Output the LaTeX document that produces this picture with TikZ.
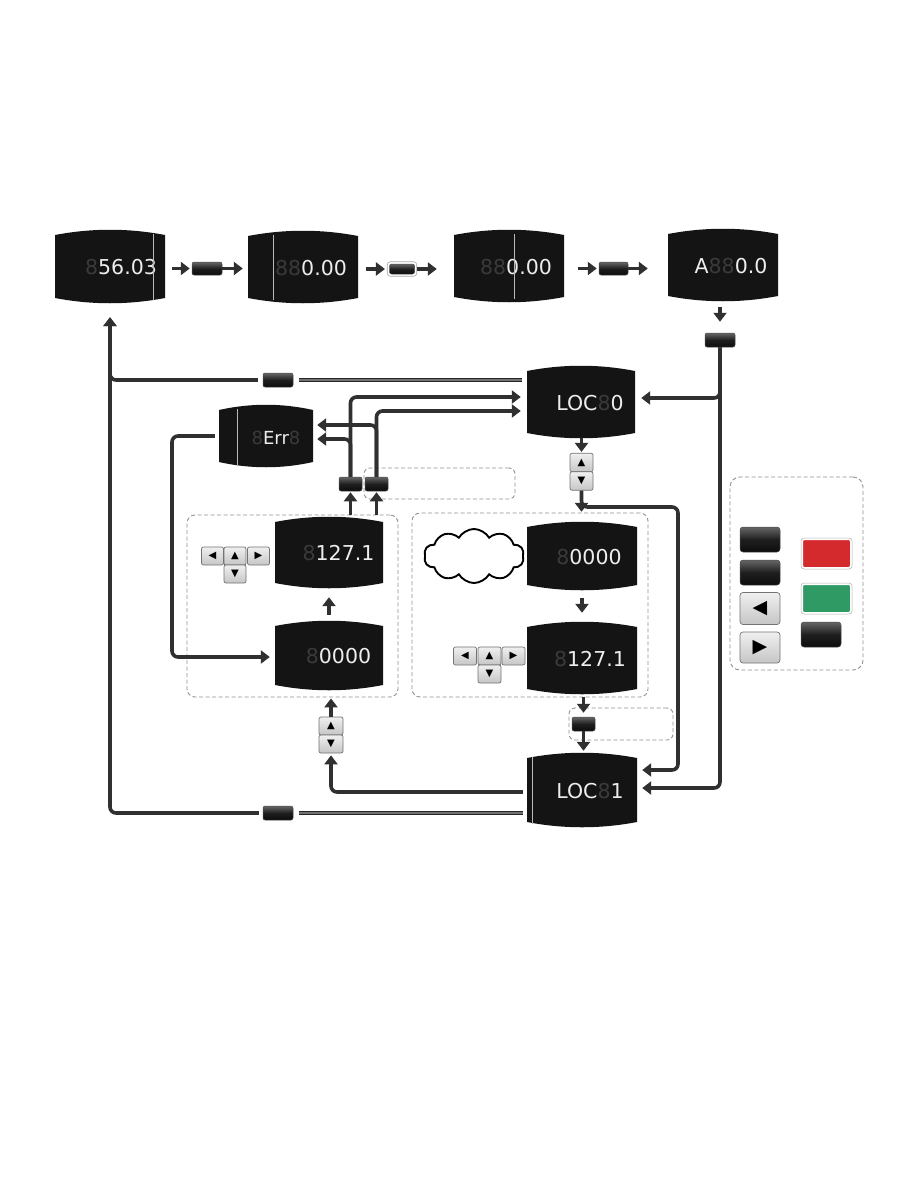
\documentclass[tikz,border=0pt]{standalone}
\usepackage{fontspec}
\usetikzlibrary{arrows.meta,calc,shapes.symbols,fit}
\newfontfamily\segfont{DejaVu Sans}
\newfontfamily\symfont{DejaVu Sans}
\definecolor{conncol}{HTML}{303030}
\definecolor{segdim}{HTML}{3A3A3A}
\definecolor{seglit}{HTML}{EDEDED}
\definecolor{dispc}{HTML}{141414}
\definecolor{redb}{HTML}{D42A2E}
\definecolor{greenb}{HTML}{2F9A63}
\newcommand\segD[1]{\textcolor{segdim}{#1}}
\newcommand\segL[1]{\textcolor{seglit}{#1}}
\tikzset{
 conn/.style={draw=conncol, line width=3.6pt, rounded corners=6pt},
 arr/.style={-{Triangle[length=9pt,width=13pt]}},
 dbl/.style={draw=black!85, double=black!55, double distance=1.4pt, line width=1.6pt},
 dbox/.style={draw=gray!85, dash pattern=on 4pt off 2.5pt, line width=0.9pt, rounded corners=8pt, inner sep=0pt},
 btn/.style={rectangle, rounded corners=2pt, top color=black!60, bottom color=black!95, middle color=black!88, draw=black!70, line width=0.5pt, inner sep=0pt},
 key/.style={rectangle, rounded corners=2pt, top color=gray!12, bottom color=gray!45, draw=black!55, line width=0.7pt, inner sep=0pt, font=\symfont\fontsize{10}{10}\selectfont},
 dnode/.style={rectangle, inner sep=0pt},
 dtext/.style={inner sep=0pt, anchor=base, font=\segfont\fontsize{20.5}{20.5}\selectfont},
 vline/.style={draw=gray!55, line width=0.5pt},
}
\newcommand\Disp[7]{%
 \fill[dispc] ({#2-#4/2},{#3-#5/2+5}) .. controls ({#2-#4/6},{#3-#5/2-2}) and ({#2+#4/6},{#3-#5/2-2}) .. ({#2+#4/2},{#3-#5/2+5}) -- ({#2+#4/2},{#3+#5/2-5}) .. controls ({#2+#4/6},{#3+#5/2+2}) and ({#2-#4/6},{#3+#5/2+2}) .. ({#2-#4/2},{#3+#5/2-5}) -- cycle;
 \node[dnode, minimum width=#4pt, minimum height=#5pt] (#1) at (#2,#3) {};
 \node[dtext] (#1t) at ({#2+#7},{#3+8}) {#6};
}
\begin{document}
\begin{tikzpicture}[x=1pt,y=-1pt]
\fill[white] (0,0) rectangle (918,1188);
\useasboundingbox (0,0) rectangle (918,1188);

% dashed boxes
\node[dbox, minimum width=211pt, minimum height=182pt] (Lbox) at (292.5,606) {};
\node[dbox, minimum width=236pt, minimum height=184pt] (Rbox) at (530,605) {};
\node[dbox, minimum width=151pt, minimum height=31pt, rounded corners=6pt] (Tbox) at (439.5,483.5) {};
\node[dbox, minimum width=104pt, minimum height=32pt, rounded corners=6pt] (Fbox) at (621,724) {};
\node[dbox, minimum width=133pt, minimum height=193pt, rounded corners=10pt] (Legend) at (796.5,573.5) {};

% cloud
\node[cloud, draw=black, fill=white, line width=1.9pt, cloud puffs=10, cloud puff arc=120, aspect=1.9, minimum width=100pt, minimum height=54pt] (cloud) at (474,556) {};

% displays
\Disp{D1}{110}{266.5}{110}{73}{\segD{8}\segL{56.03}}{11}
\Disp{D2}{303}{267}{110}{72}{\segD{88}\segL{0.00}}{8}
\Disp{D3}{509}{266}{110}{72}{\segD{88}\segL{0.00}}{7}
\Disp{D4}{723}{265}{110}{72}{\segL{A}\segD{88}\segL{0.0}}{8}
\Disp{LOC0}{581}{402}{108}{72}{\segL{LOC}\segD{8}\segL{0}}{9}
\Disp{Err}{266}{436}{94}{62}{\fontsize{18}{18}\selectfont\segD{8}\segL{Err}\segD{8}}{10}
\Disp{Ltop}{329}{552.5}{108}{71}{\segD{8}\segL{127.1}}{9.5}
\Disp{Lbot}{329}{655.5}{108}{69}{\segD{8}\segL{0000}}{9.5}
\Disp{Rtop}{582}{556}{110}{68}{\segD{8}\segL{0000}}{7}
\Disp{Rbot}{582}{658}{110}{72}{\segD{8}\segL{127.1}}{8}
\Disp{LOC1}{582}{790}{110}{74}{\segL{LOC}\segD{8}\segL{1}}{8}
\draw[vline] (153,234) -- (153,300);
\draw[vline] (273,235) -- (273,300);
\draw[vline] (514,234) -- (514,299);
\draw[vline] (237,409) -- (237,465);
\draw[vline] (532,757) -- (532,824);

% buttons
\node[btn, minimum width=30pt, minimum height=13pt] (bA) at (207,268.5) {};
\node[btn, minimum width=25pt, minimum height=10pt] (bB) at (402,269) {};
\node[draw=gray!70, rounded corners=3pt, fit=(bB), inner sep=2pt, line width=0.6pt] (bBo) {};
\node[btn, minimum width=29pt, minimum height=13pt] (bC) at (613.5,268.5) {};
\node[btn, minimum width=30pt, minimum height=14pt] (bD) at (720,340) {};
\node[btn, minimum width=30pt, minimum height=14pt] (bE) at (278,380) {};
\node[btn, minimum width=23pt, minimum height=14pt] (b1) at (350.5,484) {};
\node[btn, minimum width=23pt, minimum height=14pt] (b2) at (376.5,484) {};
\node[btn, minimum width=23pt, minimum height=14pt] (bF) at (583.5,724) {};
\node[btn, minimum width=30pt, minimum height=14pt] (bG) at (278,813) {};

% keys
\node[key, minimum width=23pt, minimum height=18.5pt] (UD1u) at (581.5,462.5) {▲};
\node[key, minimum width=23pt, minimum height=18.5pt] (UD1d) at (581.5,481) {▼};
\node[key, minimum width=24pt, minimum height=18pt] (UD2u) at (331,726) {▲};
\node[key, minimum width=24pt, minimum height=18pt] (UD2d) at (331,744) {▼};
\node[key, minimum width=22pt, minimum height=18pt] (Kl1) at (212.5,556) {◀};
\node[key, minimum width=22pt, minimum height=18pt] (Ku1) at (235,556) {▲};
\node[key, minimum width=22pt, minimum height=18pt] (Kr1) at (258.5,556) {▶};
\node[key, minimum width=22pt, minimum height=18pt] (Kd1) at (235,574) {▼};
\node[key, minimum width=23pt, minimum height=18pt] (Kl2) at (465,656) {◀};
\node[key, minimum width=23pt, minimum height=18pt] (Ku2) at (489.5,656) {▲};
\node[key, minimum width=23pt, minimum height=18pt] (Kr2) at (513.5,656) {▶};
\node[key, minimum width=23pt, minimum height=18pt] (Kd2) at (489.5,674) {▼};

% legend
\node[btn, minimum width=40pt, minimum height=25pt, rounded corners=3pt] (Lg1) at (760,539.5) {};
\node[btn, minimum width=40pt, minimum height=25pt, rounded corners=3pt] (Lg2) at (760,572.5) {};
\node[key, minimum width=40pt, minimum height=32pt, rounded corners=3pt, font=\symfont\fontsize{19}{19}\selectfont] (Lgl) at (760,608.5) {◀};
\node[key, minimum width=40pt, minimum height=31pt, rounded corners=3pt, font=\symfont\fontsize{19}{19}\selectfont] (Lgr) at (760,647.5) {▶};
\node[rectangle, rounded corners=2pt, fill=redb, draw=white, line width=1pt, minimum width=48pt, minimum height=28pt] (Lgred) at (826.5,553.5) {};
\node[draw=gray!60, rounded corners=3pt, fit=(Lgred), inner sep=1pt, line width=0.5pt] (Lgredo) {};
\node[rectangle, rounded corners=2pt, fill=greenb, draw=white, line width=1pt, minimum width=48pt, minimum height=28pt] (Lggrn) at (826.5,598.5) {};
\node[draw=gray!60, rounded corners=3pt, fit=(Lggrn), inner sep=1pt, line width=0.5pt] (Lggrno) {};
\node[btn, minimum width=40pt, minimum height=25pt, rounded corners=3pt] (Lg3) at (821,634.5) {};

% top row connectors
\draw[conn,arr,shorten <=7pt,shorten >=2pt] (D1.east |- bA.west) -- (bA.west);
\draw[conn,arr,shorten >=5pt] (bA.east) -- (bA.east -| D2.west);
\draw[conn,arr,shorten <=8pt,shorten >=2pt] (D2.east |- bBo.west) -- (bBo.west);
\draw[conn,arr,shorten >=17pt] (bBo.east) -- (bBo.east -| D3.west);
\draw[conn,arr,shorten <=14pt,shorten >=2pt] (D3.east |- bC.west) -- (bC.west);
\draw[conn,arr,shorten >=20pt] (bC.east) -- (bC.east -| D4.west);
\draw[conn,arr,shorten <=6pt,shorten >=11pt] (D4.south -| bD.north) -- (bD.north);

% right side
\draw[conn,arr,shorten >=6pt] (bD.south) |- ($(LOC0.east)+(0,-4)$);
\draw[conn,arr,shorten >=5pt] (bD.south) |- ($(LOC1.east)+(0,-2)$);

% LOC0 down path
\draw[conn,arr,shorten >=1pt] (LOC0.south -| UD1u.north) -- (UD1u.north);
\draw[conn,arr,shorten >=10pt] (UD1d.south) -- (UD1d.south |- Rtop.north);
\coordinate (cR) at (678,507);
\draw[conn,arr,shorten >=5pt] (UD1d.south) |- (cR) |- ($(LOC1.east)+(0,-20)$);

% right box internal
\draw[conn,arr,shorten <=8pt,shorten >=9pt] (Rtop.south) -- (Rbot.north);
\draw[conn,arr,shorten <=3pt,shorten >=4pt] (Rbot.south -| bF.north) -- (bF.north);
\draw[conn,arr,shorten >=2pt] (bF.south) -- (bF.south |- LOC1.north);

% LOC1 to up/down
\draw[conn,arr,shorten <=4pt,shorten >=2pt] ($(LOC1.west)+(0,2)$) -| (UD2d.south);
\draw[conn,arr,shorten >=1pt] (UD2u.north) -- (UD2u.north |- Lbox.south);

% exits to D1
\draw[dbl,shorten <=4pt,shorten >=6pt] ($(LOC1.west)+(0,23)$) -- (bG.east);
\draw[conn,arr,shorten <=4pt,shorten >=14pt] (bG.west) -| (D1.south);
\draw[dbl,shorten <=5pt,shorten >=6pt] ($(LOC0.west)+(0,-22)$) -- (bE.east);
\draw[conn,arr,shorten <=5pt,shorten >=14pt] (bE.west) -| (D1.south);

% b1, b2 connectors
\draw[conn,arr,shorten >=6pt] (b1.north) |- ($(LOC0.west)+(0,-5)$);
\draw[conn,arr,shorten >=6pt] (b2.north) |- ($(LOC0.west)+(0,9)$);
\draw[conn,arr,shorten >=4pt] (b1.north) |- ($(Err.east)+(0,3)$);
\draw[conn,arr,shorten >=4pt] (b2.north) |- ($(Err.east)+(0,-11)$);
\draw[conn,arr,shorten >=1pt] (b1.south |- Lbox.north) -- (b1.south);
\draw[conn,arr,shorten >=1pt] (b2.south |- Lbox.north) -- (b2.south);

% Err to left box
\coordinate (cL) at (172,657);
\draw[conn,arr,shorten <=4pt,shorten >=5pt] (Err.west) -| (cL) -- (cL -| Lbot.west);
\draw[conn,arr,shorten <=6pt,shorten >=9pt] (Lbot.north) -- (Ltop.south);
\end{tikzpicture}
\end{document}
